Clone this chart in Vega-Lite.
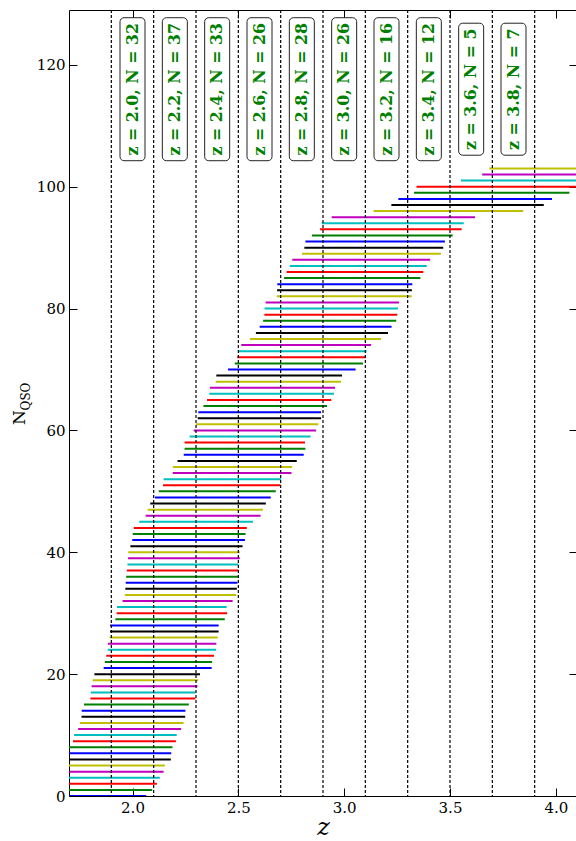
{
 "$schema": "https://vega.github.io/schema/vega-lite/v6.json",
 "width": 508, "height": 786,
 "autosize": {"type": "none"},
 "padding": {"left": 69, "top": 10, "right": 0, "bottom": 45},
 "background": "white",
 "config": {
  "view": {"stroke": "black", "strokeWidth": 1},
  "axis": {"labelFont": "DejaVu Serif", "titleFont": "DejaVu Serif", "labelColor": "black", "titleColor": "black", "tickColor": "black", "grid": false, "domain": false, "labelFontSize": 15, "tickSize": -8, "tickWidth": 1, "titleFontWeight": "normal"}
 },
 "datasets": {
  "qso": [
   {"n":0,"z1":1.58,"z2":2.065},{"n":1,"z1":1.60,"z2":2.093},{"n":2,"z1":1.625,"z2":2.115},{"n":3,"z1":1.64,"z2":2.129},
   {"n":4,"z1":1.655,"z2":2.147},{"n":5,"z1":1.66,"z2":2.153},{"n":6,"z1":1.69,"z2":2.181},{"n":7,"z1":1.69,"z2":2.183},
   {"n":8,"z1":1.695,"z2":2.189},{"n":9,"z1":1.719,"z2":2.205},{"n":10,"z1":1.724,"z2":2.209},{"n":11,"z1":1.743,"z2":2.230},
   {"n":12,"z1":1.751,"z2":2.241},{"n":13,"z1":1.759,"z2":2.249},{"n":14,"z1":1.760,"z2":2.250},{"n":15,"z1":1.771,"z2":2.266},
   {"n":16,"z1":1.801,"z2":2.297},{"n":17,"z1":1.803,"z2":2.297},{"n":18,"z1":1.807,"z2":2.307},{"n":19,"z1":1.812,"z2":2.310},
   {"n":20,"z1":1.820,"z2":2.319},{"n":21,"z1":1.864,"z2":2.374},{"n":22,"z1":1.869,"z2":2.376},{"n":23,"z1":1.876,"z2":2.385},
   {"n":24,"z1":1.883,"z2":2.395},{"n":25,"z1":1.884,"z2":2.396},{"n":26,"z1":1.892,"z2":2.403},{"n":27,"z1":1.894,"z2":2.407},
   {"n":28,"z1":1.894,"z2":2.407},{"n":29,"z1":1.919,"z2":2.436},{"n":30,"z1":1.925,"z2":2.447},{"n":31,"z1":1.927,"z2":2.445},
   {"n":32,"z1":1.953,"z2":2.473},{"n":33,"z1":1.964,"z2":2.490},{"n":34,"z1":1.966,"z2":2.493},{"n":35,"z1":1.968,"z2":2.496},
   {"n":36,"z1":1.970,"z2":2.498},{"n":37,"z1":1.973,"z2":2.501},{"n":38,"z1":1.976,"z2":2.501},{"n":39,"z1":1.979,"z2":2.507},
   {"n":40,"z1":1.980,"z2":2.507},{"n":41,"z1":1.990,"z2":2.520},{"n":42,"z1":1.999,"z2":2.531},{"n":43,"z1":2.001,"z2":2.534},
   {"n":44,"z1":2.006,"z2":2.540},{"n":45,"z1":2.032,"z2":2.569},{"n":46,"z1":2.062,"z2":2.605},{"n":47,"z1":2.072,"z2":2.616},
   {"n":48,"z1":2.084,"z2":2.630},{"n":49,"z1":2.106,"z2":2.653},{"n":50,"z1":2.124,"z2":2.677},{"n":51,"z1":2.144,"z2":2.699},
   {"n":52,"z1":2.147,"z2":2.702},{"n":53,"z1":2.190,"z2":2.751},{"n":54,"z1":2.191,"z2":2.754},{"n":55,"z1":2.213,"z2":2.776},
   {"n":56,"z1":2.242,"z2":2.809},{"n":57,"z1":2.246,"z2":2.817},{"n":58,"z1":2.246,"z2":2.815},{"n":59,"z1":2.270,"z2":2.841},
   {"n":60,"z1":2.289,"z2":2.867},{"n":61,"z1":2.300,"z2":2.878},{"n":62,"z1":2.308,"z2":2.891},{"n":63,"z1":2.311,"z2":2.891},
   {"n":64,"z1":2.335,"z2":2.919},{"n":65,"z1":2.352,"z2":2.939},{"n":66,"z1":2.363,"z2":2.952},{"n":67,"z1":2.366,"z2":2.957},
   {"n":68,"z1":2.393,"z2":2.985},{"n":69,"z1":2.396,"z2":2.990},{"n":70,"z1":2.451,"z2":3.054},{"n":71,"z1":2.483,"z2":3.089},
   {"n":72,"z1":2.495,"z2":3.102},{"n":73,"z1":2.500,"z2":3.106},{"n":74,"z1":2.514,"z2":3.127},{"n":75,"z1":2.555,"z2":3.174},
   {"n":76,"z1":2.583,"z2":3.207},{"n":77,"z1":2.601,"z2":3.224},{"n":78,"z1":2.617,"z2":3.246},{"n":79,"z1":2.623,"z2":3.251},
   {"n":80,"z1":2.624,"z2":3.254},{"n":81,"z1":2.629,"z2":3.259},{"n":82,"z1":2.681,"z2":3.319},{"n":83,"z1":2.683,"z2":3.320},
   {"n":84,"z1":2.684,"z2":3.322},{"n":85,"z1":2.716,"z2":3.360},{"n":86,"z1":2.728,"z2":3.374},{"n":87,"z1":2.743,"z2":3.390},
   {"n":88,"z1":2.755,"z2":3.406},{"n":89,"z1":2.801,"z2":3.457},{"n":90,"z1":2.812,"z2":3.468},{"n":91,"z1":2.817,"z2":3.476},
   {"n":92,"z1":2.848,"z2":3.513},{"n":93,"z1":2.886,"z2":3.555},{"n":94,"z1":2.894,"z2":3.565},{"n":95,"z1":2.941,"z2":3.618},
   {"n":96,"z1":3.139,"z2":3.846},{"n":97,"z1":3.223,"z2":3.943},{"n":98,"z1":3.256,"z2":3.982},{"n":99,"z1":3.330,"z2":4.064},
   {"n":100,"z1":3.342,"z2":4.12},{"n":101,"z1":3.552,"z2":4.32},{"n":102,"z1":3.652,"z2":4.43},{"n":103,"z1":3.686,"z2":4.47}
  ],
  "bins": [
   {"zc":2.0,"N":32,"label":"z = 2.0, N = 32"},{"zc":2.2,"N":37,"label":"z = 2.2, N = 37"},
   {"zc":2.4,"N":33,"label":"z = 2.4, N = 33"},{"zc":2.6,"N":26,"label":"z = 2.6, N = 26"},
   {"zc":2.8,"N":28,"label":"z = 2.8, N = 28"},{"zc":3.0,"N":26,"label":"z = 3.0, N = 26"},
   {"zc":3.2,"N":16,"label":"z = 3.2, N = 16"},{"zc":3.4,"N":12,"label":"z = 3.4, N = 12"},
   {"zc":3.6,"N":5,"label":"z = 3.6, N = 5"},{"zc":3.8,"N":7,"label":"z = 3.8, N = 7"}
  ],
  "edges": [{"ze":1.9},{"ze":2.1},{"ze":2.3},{"ze":2.5},{"ze":2.7},{"ze":2.9},{"ze":3.1},{"ze":3.3},{"ze":3.5},{"ze":3.7},{"ze":3.9}]
 },
 "layer": [
  {
   "data": {"name": "qso"},
   "mark": {"type": "rule", "strokeWidth": 2, "clip": true},
   "encoding": {
    "x": {"field": "z1", "type": "quantitative", "scale": {"domain": [1.7, 4.1], "nice": false, "zero": false},
          "axis": {"orient": "bottom", "values": [2, 2.5, 3, 3.5, 4], "format": ".1f", "labelPadding": 12, "title": "z", "titleFontStyle": "italic", "titleFontSize": 24, "titleX": 254, "titleY": 38, "titleBaseline": "alphabetic"}},
    "x2": {"field": "z2"},
    "y": {"field": "n", "type": "quantitative", "scale": {"domain": [0, 129], "nice": false, "zero": false},
          "axis": {"orient": "left", "values": [0, 20, 40, 60, 80, 100, 120], "labelPadding": 12, "title": "N", "titleFontSize": 17, "titleAngle": 270, "titleX": -45, "titleY": 407, "titleBaseline": "alphabetic", "titleAlign": "center"}},
    "color": {"field": "n", "type": "ordinal", "scale": {"range": ["#0000ff", "#008000", "#ff0000", "#00bfbf", "#bf00bf", "#bfbf00", "#000000"]}, "legend": null}
   }
  },
  {
   "data": {"name": "edges"},
   "mark": {"type": "rule", "strokeDash": [3, 2], "strokeWidth": 1.2, "color": "black"},
   "encoding": {
    "x": {"field": "ze", "type": "quantitative", "scale": {"domain": [1.7, 4.1], "nice": false, "zero": false},
          "axis": {"orient": "top", "values": [2, 2.5, 3, 3.5, 4], "labels": false, "title": null}}
   }
  },
  {
   "data": {"name": "bins"},
   "transform": [{"filter": "datum.N >= 10"}],
   "mark": {"type": "rect", "width": 25, "height": 143, "cornerRadius": 4, "fill": "white", "stroke": "#222222", "strokeWidth": 1},
   "encoding": {
    "x": {"field": "zc", "type": "quantitative", "scale": {"domain": [1.7, 4.1], "nice": false, "zero": false}, "axis": null},
    "y": {"datum": 116, "type": "quantitative", "scale": {"domain": [0, 129], "nice": false, "zero": false},
          "axis": {"orient": "right", "values": [0, 20, 40, 60, 80, 100, 120], "labels": false, "title": null}}
   }
  },
  {
   "data": {"name": "bins"},
   "transform": [{"filter": "datum.N < 10"}],
   "mark": {"type": "rect", "width": 25, "height": 132, "cornerRadius": 4, "fill": "white", "stroke": "#222222", "strokeWidth": 1},
   "encoding": {
    "x": {"field": "zc", "type": "quantitative", "scale": {"domain": [1.7, 4.1], "nice": false, "zero": false}, "axis": null},
    "y": {"datum": 116, "type": "quantitative", "scale": {"domain": [0, 129], "nice": false, "zero": false}, "axis": null}
   }
  },
  {
   "data": {"name": "bins"},
   "mark": {"type": "text", "angle": 270, "font": "DejaVu Serif", "fontWeight": "bold", "fontSize": 15.8, "color": "#008000", "align": "center", "baseline": "middle"},
   "encoding": {
    "x": {"field": "zc", "type": "quantitative", "scale": {"domain": [1.7, 4.1], "nice": false, "zero": false}, "axis": null},
    "y": {"datum": 116, "type": "quantitative", "scale": {"domain": [0, 129], "nice": false, "zero": false},
          "axis": {"orient": "left", "labels": false, "ticks": false, "domain": false, "title": "QSO", "titleFontSize": 12, "titleAngle": 270, "titleX": -40, "titleY": 386, "titleBaseline": "alphabetic", "titleAlign": "center"}},
    "text": {"field": "label"}
   }
  }
 ],
 "resolve": {"axis": {"x": "independent", "y": "independent"}}
}
